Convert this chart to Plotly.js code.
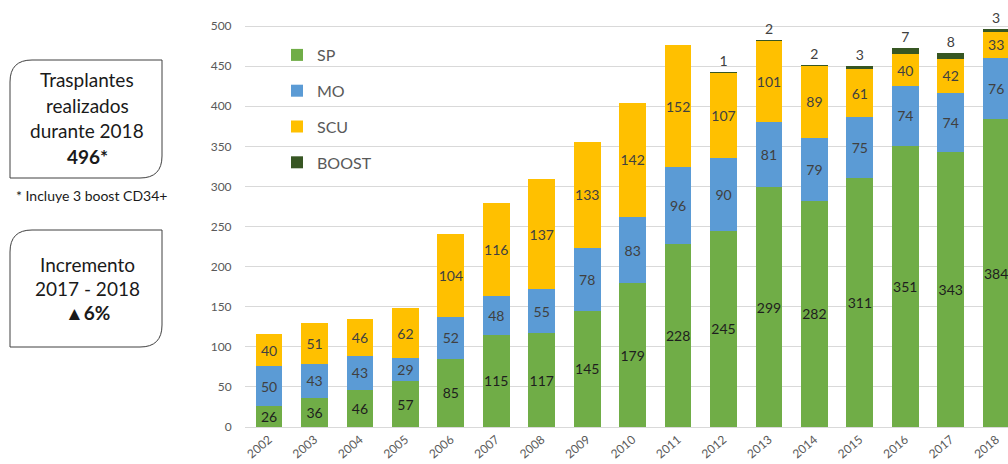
<!DOCTYPE html>
<html>
<head>
<meta charset="utf-8">
<script src="https://cdn.plot.ly/plotly-3.0.1.min.js"></script>
<style>html,body{margin:0;padding:0;background:#fff;}#chart{width:1008px;height:464px;}</style>
</head>
<body>
<div id="chart"></div>
<script>
const years = ['2002','2003','2004','2005','2006','2007','2008','2009','2010','2011','2012','2013','2014','2015','2016','2017','2018'];
const SP    = [26,36,46,57,85,115,117,145,179,228,245,299,282,311,351,343,384];
const MO    = [50,43,43,29,52,48,55,78,83,96,90,81,79,75,74,74,76];
const SCU   = [40,51,46,62,104,116,137,133,142,152,107,101,89,61,40,42,33];
const BOOST = [0,0,0,0,0,0,0,0,0,0,1,2,2,3,7,8,3];

const box1Lines = ['Trasplantes','realizados','durante 2018','<b>496*</b>'];
const footnote = '* Incluye 3 boost CD34+';
const box2Lines = ['Incremento','2017 - 2018','<b>▲6%</b>'];

const FONT = 'Lato, "Open Sans", sans-serif';
const L = 245, R = 1008, T = 10, B = 427;
const W = R - L, H = B - T;
const px = x => (x - L) / W;
const py = y => (B - y) / H;

function mk(name, vals, color, tcolor, textArr, pos) {
  return {
    type: 'bar', name: name, x: years, y: vals,
    marker: {color: color},
    text: textArr, textposition: pos, insidetextanchor: 'middle',
    textangle: 0, constraintext: 'none', cliponaxis: false,
    textfont: {family: FONT, size: 14, color: tcolor},
    legendgroup: name, hoverinfo: 'skip'
  };
}

const traces = [
  mk('SP', SP, '#70AD47', '#1e1e1e', SP.map(String), 'inside'),
  mk('MO', MO, '#5B9BD5', '#404040', MO.map(String), 'inside'),
  mk('SCU', SCU, '#FFC000', '#404040', SCU.map(String), 'inside'),
  mk('BOOST', BOOST, '#375623', '#404040', BOOST.map(v => v ? String(v) : ''), 'outside')
];

function roundBox(x0, y0, x1, y1, r) {
  const P = (x, y) => px(x) + ',' + py(y);
  return 'M' + P(x0 + r, y0) + ' L' + P(x1, y0) + ' L' + P(x1, y1 - r) +
    ' Q' + P(x1, y1) + ' ' + P(x1 - r, y1) + ' L' + P(x0, y1) + ' L' + P(x0, y0 + r) +
    ' Q' + P(x0, y0) + ' ' + P(x0 + r, y0) + ' Z';
}

const shapes = [
  {type: 'path', xref: 'paper', yref: 'paper', path: roundBox(10, 60, 162, 178, 22), line: {color: '#404040', width: 1}},
  {type: 'path', xref: 'paper', yref: 'paper', path: roundBox(10, 230, 162, 347, 22), line: {color: '#404040', width: 1}}
];

const annotations = [];
const b1y = [80, 105, 130, 156];
box1Lines.forEach((t, i) => annotations.push({xref: 'paper', yref: 'paper', x: px(87), y: py(b1y[i]), text: t, showarrow: false, xanchor: 'center', yanchor: 'middle', font: {family: FONT, size: 19, color: '#1a1a1a'}}));
annotations.push({xref: 'paper', yref: 'paper', x: px(91), y: py(195), text: footnote, showarrow: false, xanchor: 'center', yanchor: 'middle', font: {family: FONT, size: 14, color: '#1a1a1a'}});
const b2y = [264, 288, 313];
box2Lines.forEach((t, i) => annotations.push({xref: 'paper', yref: 'paper', x: px(87), y: py(b2y[i]), text: t, showarrow: false, xanchor: 'center', yanchor: 'middle', font: {family: FONT, size: 19, color: '#1a1a1a'}}));

const layout = {
  width: 1008, height: 464,
  margin: {l: L, r: 0, t: T, b: 464 - B, pad: 0},
  paper_bgcolor: '#fff', plot_bgcolor: '#fff',
  barmode: 'stack', bargap: 0.41,
  showlegend: true,
  legend: {x: px(277), y: py(38), xanchor: 'left', yanchor: 'top', traceorder: 'grouped', tracegroupgap: 12,
           font: {family: FONT, size: 16, color: '#595959'}, bgcolor: 'rgba(0,0,0,0)'},
  xaxis: {type: 'category', range: [-0.53, 16.26], tickangle: -40, showgrid: false,
          showline: true, linecolor: '#d9d9d9', linewidth: 1, ticks: '',
          tickfont: {family: FONT, size: 12, color: '#595959'}, fixedrange: true},
  yaxis: {range: [0, 520], tickvals: [0,50,100,150,200,250,300,350,400,450,500], showgrid: true,
          gridcolor: '#d9d9d9', gridwidth: 1, zeroline: false, ticks: 'outside', ticklen: 10, tickcolor: 'rgba(0,0,0,0)',
          tickfont: {family: FONT, size: 12, color: '#595959'}, fixedrange: true},
  shapes: shapes, annotations: annotations,
  font: {family: FONT}
};

Plotly.newPlot('chart', traces, layout, {displayModeBar: false, staticPlot: true});
</script>
</body>
</html>
